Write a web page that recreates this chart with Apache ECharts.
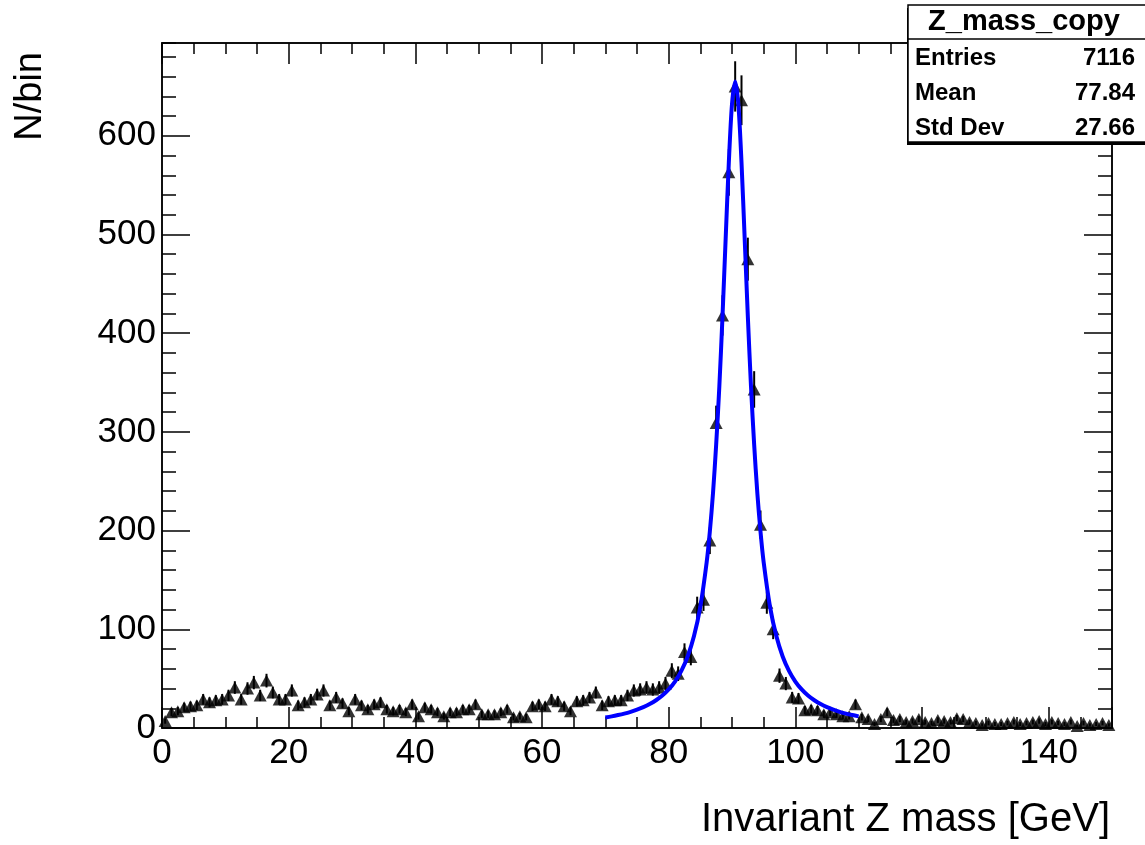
<!DOCTYPE html>
<html>
<head>
<meta charset="utf-8">
<script src="https://cdn.jsdelivr.net/npm/echarts@6/dist/echarts.min.js"></script>
<style>
html,body{margin:0;padding:0;background:#fff;}
#chart{width:1145px;height:845px;}
</style>
</head>
<body>
<div id="chart"></div>
<script>
// Histogram: 150 bins of width 1 GeV from 0 to 150 (counts per bin)
const counts = [
  7,16,17,21,22,23,29,26,28,29,
  33,41,29,40,46,33,48,36,29,29,
  38,23,26,29,34,38,23,31,25,17,
  29,23,19,24,26,19,17,19,16,24,
  12,21,19,16,12,16,16,19,19,24,
  14,14,14,16,19,11,12,11,22,24,
  22,29,27,22,17,27,28,31,36,23,
  27,28,28,33,38,39,41,39,41,45,
  58,55,77,72,122,130,190,309,418,563,
  650,636,475,343,206,127,100,53,45,31,
  30,18,19,18,14,16,14,12,12,24,
  11,9,4,9,16,8,9,6,7,9,
  6,5,8,7,6,10,9,6,5,3,
  5,4,4,5,6,4,5,6,7,4,
  6,5,4,6,2,5,3,4,5,3
];
const binLow = 0, binWidth = 1;

// Fit curve, x in GeV
const fitX = [70,71,72,73,74,75,76,77,78,79,80,81,82,83,84,85,86,86.5,87,87.5,88,88.5,89,89.5,90,90.5,91,91.5,92,92.5,93,93.5,94,94.5,95,96,97,98,99,100,101,102,103,104,105,106,107,108,109,110];
const fitY = [10.7,11.8,13.1,14.6,16.4,18.5,21.1,24.2,28.1,32.9,39.1,47.1,57.9,72.5,93.1,123,168,199,238,287,346,417,496,573,632,655,632,573,496,417,346,287,238,199,168,123,93.1,72.5,57.9,47.1,39.1,32.9,28.1,24.2,21.1,18.5,16.4,14.6,13.1,11.8];

// Axis ticks
const xMajorTicks = [0,20,40,60,80,100,120,140];
const yMajorTicks = [0,100,200,300,400,500,600];

// Stats box text
const statsTitle = 'Z_mass_copy';
const statsNames = ['Entries','Mean','Std Dev'];
const statsValues = ['7116','77.84','27.66'];

const xTitle = 'Invariant Z mass [GeV]';
const yTitle = 'N/bin';

const FONT = '"Liberation Sans", Arial, Helvetica, sans-serif';
const X_MIN = 0, X_MAX = 150, Y_MIN = 0, Y_MAX = 694;

const points = counts.map((c, i) => [binLow + (i + 0.5) * binWidth, c]);
const errData = counts.map((c, i) => [binLow + (i + 0.5) * binWidth, c, Math.sqrt(c)]);
const fitData = fitX.map((x, i) => [x, fitY[i]]);

const chart = echarts.init(document.getElementById('chart'), null, {renderer: 'canvas'});

function xAxisDef(pos, interval, len, labels) {
  return {
    type: 'value', position: pos, min: X_MIN, max: X_MAX, interval: interval,
    axisLine: {show: true, onZero: false, lineStyle: {color: '#000', width: 1.5}},
    axisTick: {show: true, inside: true, length: len, lineStyle: {color: '#000', width: 1.5}},
    axisLabel: labels ? {show: true, color: '#000', fontSize: 35, fontFamily: FONT, margin: 8,
      formatter: v => xMajorTicks.indexOf(v) >= 0 ? String(v) : ''} : {show: false},
    splitLine: {show: false}
  };
}
function yAxisDef(pos, interval, len, labels) {
  return {
    type: 'value', position: pos, min: Y_MIN, max: Y_MAX, interval: interval,
    axisLine: {show: true, onZero: false, lineStyle: {color: '#000', width: 1.5}},
    axisTick: {show: true, inside: true, length: len, lineStyle: {color: '#000', width: 1.5}},
    axisLabel: labels ? {show: true, color: '#000', fontSize: 35, fontFamily: FONT, margin: 6,
      showMaxLabel: false,
      formatter: v => yMajorTicks.indexOf(v) >= 0 ? String(v) : ''} : {show: false},
    splitLine: {show: false}
  };
}

const option = {
  backgroundColor: '#fff',
  animation: false,
  grid: {left: 162, right: 33, top: 43, bottom: 117, containLabel: false},
  xAxis: [
    xAxisDef('bottom', 20, 21, true),
    xAxisDef('bottom', 5, 11, false),
    xAxisDef('top', 20, 21, false),
    xAxisDef('top', 5, 11, false)
  ],
  yAxis: [
    yAxisDef('left', 100, 28, true),
    yAxisDef('left', 20, 14, false),
    yAxisDef('right', 100, 28, false),
    yAxisDef('right', 20, 14, false)
  ],
  series: [
    {
      type: 'custom', xAxisIndex: 0, yAxisIndex: 0, z: 2,
      data: errData,
      renderItem: function (params, api) {
        const x = api.value(0), v = api.value(1), e = api.value(2);
        const p1 = api.coord([x, Math.max(v - e, 0)]);
        const p2 = api.coord([x, v + e]);
        return {type: 'line', shape: {x1: p1[0], y1: p1[1], x2: p2[0], y2: p2[1]},
          style: {stroke: '#000', lineWidth: 2}};
      }
    },
    {
      type: 'scatter', xAxisIndex: 0, yAxisIndex: 0, z: 3,
      symbol: 'triangle', symbolSize: [13, 12],
      itemStyle: {color: '#000'},
      data: points
    },
    {
      type: 'line', xAxisIndex: 0, yAxisIndex: 0, z: 4,
      data: fitData, smooth: 0.3, showSymbol: false, symbol: 'none',
      lineStyle: {color: '#0000ff', width: 4}
    }
  ],
  graphic: [
    {type: 'text', x: 1110, y: 800, style: {text: xTitle, fontSize: 40, fontFamily: FONT, fill: '#000', align: 'right', verticalAlign: 'top'}},
    {type: 'text', x: 12, y: 52, rotation: Math.PI / 2,
      style: {text: yTitle, fontSize: 38, fontFamily: FONT, fill: '#000', align: 'right', verticalAlign: 'top'}},
    {type: 'rect', shape: {x: 907, y: 8, width: 240, height: 137}, style: {fill: '#000'}, z: 10},
    {type: 'rect', shape: {x: 908, y: 5, width: 240, height: 137}, style: {fill: '#fff', stroke: '#000', lineWidth: 1.5}, z: 11},
    {type: 'line', shape: {x1: 908, y1: 39, x2: 1145, y2: 39}, style: {stroke: '#000', lineWidth: 1.5}, z: 12},
    {type: 'text', x: 1024, y: 22, z: 12, style: {text: statsTitle, fontSize: 29, fontWeight: 'bold', fontFamily: FONT, fill: '#000', align: 'center', verticalAlign: 'middle'}},
    {type: 'text', x: 915, y: 58, z: 12, style: {text: statsNames[0], fontSize: 24, fontWeight: 'bold', fontFamily: FONT, fill: '#000', align: 'left', verticalAlign: 'middle'}},
    {type: 'text', x: 1135, y: 58, z: 12, style: {text: statsValues[0], fontSize: 24, fontWeight: 'bold', fontFamily: FONT, fill: '#000', align: 'right', verticalAlign: 'middle'}},
    {type: 'text', x: 915, y: 93, z: 12, style: {text: statsNames[1], fontSize: 24, fontWeight: 'bold', fontFamily: FONT, fill: '#000', align: 'left', verticalAlign: 'middle'}},
    {type: 'text', x: 1135, y: 93, z: 12, style: {text: statsValues[1], fontSize: 24, fontWeight: 'bold', fontFamily: FONT, fill: '#000', align: 'right', verticalAlign: 'middle'}},
    {type: 'text', x: 915, y: 128, z: 12, style: {text: statsNames[2], fontSize: 24, fontWeight: 'bold', fontFamily: FONT, fill: '#000', align: 'left', verticalAlign: 'middle'}},
    {type: 'text', x: 1135, y: 128, z: 12, style: {text: statsValues[2], fontSize: 24, fontWeight: 'bold', fontFamily: FONT, fill: '#000', align: 'right', verticalAlign: 'middle'}}
  ]
};
chart.setOption(option);
</script>
</body>
</html>
